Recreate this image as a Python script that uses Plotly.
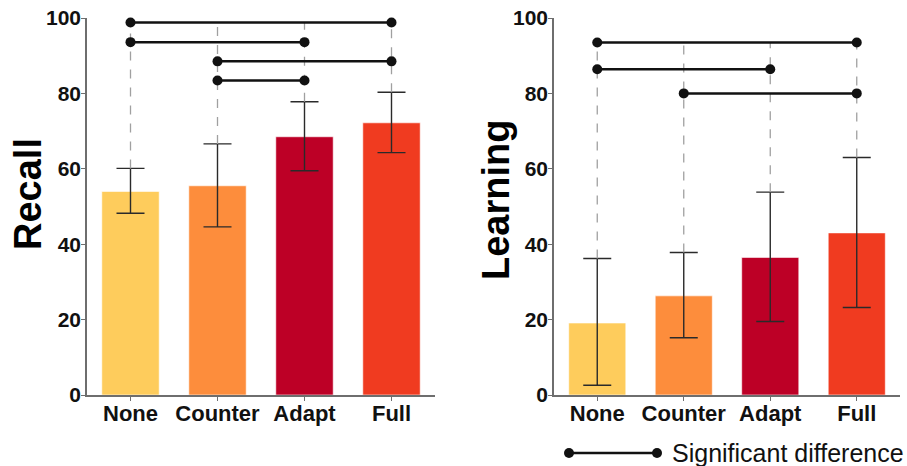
import plotly.graph_objects as go

categories = ["None", "Counter", "Adapt", "Full"]
colors = ["#fecc5c", "#fd8d3c", "#bd0026", "#f03b20"]

recall_mean = [54.0, 55.5, 68.5, 72.2]
recall_err_up = [6.1, 11.1, 9.3, 8.1]
recall_err_down = [5.8, 10.9, 9.0, 7.9]
recall_sig_pairs = [(0, 3), (0, 2), (1, 3), (1, 2)]
recall_sig_y = [98.8, 93.6, 88.5, 83.4]

learning_mean = [19.1, 26.3, 36.5, 43.0]
learning_err_up = [17.1, 11.5, 17.3, 20.0]
learning_err_down = [16.5, 11.1, 17.0, 19.8]
learning_sig_pairs = [(0, 3), (0, 2), (1, 3)]
learning_sig_y = [93.5, 86.4, 80.0]

y_ticks = [0, 20, 40, 60, 80, 100]

W, H = 907, 466
FONT = "Liberation Sans, Arial, sans-serif"

def px_x(p):
    return p / W

def px_y(p):
    return (H - p) / H

fig = go.Figure()

panels = [
    ("x", "y", recall_mean, recall_err_up, recall_err_down, recall_sig_pairs, recall_sig_y),
    ("x2", "y2", learning_mean, learning_err_up, learning_err_down, learning_sig_pairs, learning_sig_y),
]

for xa, ya, mean, eu, ed, pairs, sigy in panels:
    top = max(sigy)
    for i, c in enumerate(categories):
        fig.add_trace(go.Scatter(
            x=[c, c], y=[mean[i] + eu[i], top], xaxis=xa, yaxis=ya,
            mode="lines", line=dict(color="#a0a0a0", width=1.3, dash="dash"),
            hoverinfo="skip", showlegend=False, cliponaxis=False))
    fig.add_trace(go.Bar(
        x=categories, y=mean, xaxis=xa, yaxis=ya,
        marker=dict(color=colors, line=dict(color="rgba(255,255,255,0.6)", width=1)),
        width=0.66,
        error_y=dict(type="data", symmetric=False, array=eu, arrayminus=ed,
                     color="#2a2a2a", thickness=1.4, width=14),
        showlegend=False))
    for (a, b), yy in zip(pairs, sigy):
        fig.add_trace(go.Scatter(
            x=[categories[a], categories[b]], y=[yy, yy], xaxis=xa, yaxis=ya,
            mode="lines+markers", line=dict(color="#111111", width=2.5),
            marker=dict(color="#111111", size=10),
            hoverinfo="skip", showlegend=False, cliponaxis=False))

axis_common_x = dict(
    type="category", range=[-0.5, 3.5], showline=True, linecolor="#6e6e6e", linewidth=1.5,
    ticks="outside", ticklen=4, tickcolor="#6e6e6e", tickwidth=1.2, ticklabelstandoff=-6,
    tickfont=dict(family=FONT, size=22, color="#111111", weight="bold"),
    showgrid=False, zeroline=False, fixedrange=True, automargin=False)
axis_common_y = dict(
    range=[0, 100], tickvals=y_ticks, showline=True, linecolor="#6e6e6e", linewidth=1.5,
    ticks="outside", ticklen=4, tickcolor="#6e6e6e", tickwidth=1.2, ticklabelstandoff=-4,
    tickfont=dict(family=FONT, size=21, color="#111111", weight="bold"),
    showgrid=False, zeroline=False, fixedrange=True, automargin=False)

ybot, ytop = px_y(395), px_y(18)

fig.update_layout(
    width=W, height=H, margin=dict(l=0, r=0, t=0, b=0, autoexpand=False),
    paper_bgcolor="white", plot_bgcolor="white",
    xaxis=dict(domain=[px_x(87), px_x(435)], anchor="y", **axis_common_x),
    yaxis=dict(domain=[ybot, ytop], anchor="x", **axis_common_y),
    xaxis2=dict(domain=[px_x(554), px_x(900)], anchor="y2", **axis_common_x),
    yaxis2=dict(domain=[ybot, ytop], anchor="x2", **axis_common_y),
    font=dict(family=FONT),
)

fig.add_annotation(text="Recall", x=px_x(28), y=px_y(194), xref="paper", yref="paper",
                   textangle=-90, showarrow=False, xanchor="center", yanchor="middle",
                   font=dict(family=FONT, size=38, color="#000000", weight="bold"))
fig.add_annotation(text="Learning", x=px_x(496), y=px_y(200), xref="paper", yref="paper",
                   textangle=-90, showarrow=False, xanchor="center", yanchor="middle",
                   font=dict(family=FONT, size=38, color="#000000", weight="bold"))

ly = px_y(453)
fig.add_shape(type="line", xref="paper", yref="paper", x0=px_x(569), x1=px_x(657), y0=ly, y1=ly,
              line=dict(color="#111111", width=2.5))
for cx in (569, 657):
    fig.add_shape(type="circle", xref="paper", yref="paper",
                  x0=px_x(cx - 5), x1=px_x(cx + 5), y0=px_y(453 + 5), y1=px_y(453 - 5),
                  fillcolor="#111111", line=dict(color="#111111", width=0))
fig.add_annotation(text="Significant difference", x=px_x(670), y=ly, xref="paper", yref="paper",
                   showarrow=False, xanchor="left", yanchor="middle",
                   font=dict(family=FONT, size=25, color="#111111"))

fig.write_html("out.html")
